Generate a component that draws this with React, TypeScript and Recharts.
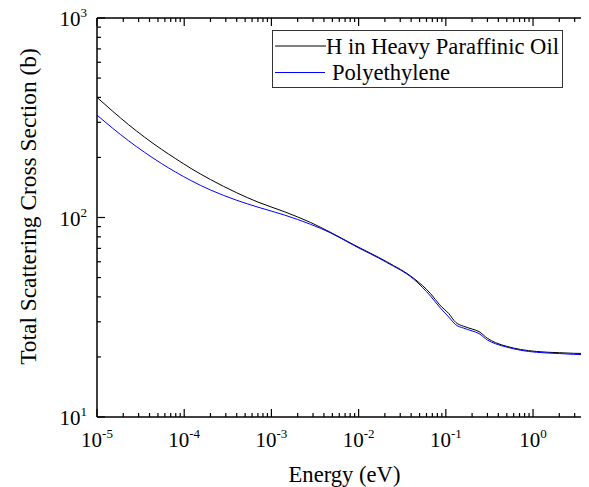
import { LineChart, Line, XAxis, YAxis, Legend } from "recharts";

// energies in eV, cross sections in barns
const energy = [
  1e-5, 1.5e-5, 2.3e-5, 3.5e-5, 5.5e-5, 8e-5, 1.2e-4, 2e-4, 4e-4, 7e-4, 1.4e-3,
  2.8e-3, 4.7e-3, 8.8e-3, 0.021, 0.043, 0.067, 0.085, 0.108, 0.13, 0.16, 0.2,
  0.24, 0.3, 0.37, 0.5, 0.72, 1.1, 2, 4.2, 5,
];
const hOil = [
  400, 342, 292, 253, 219.5, 197, 176, 155, 133, 119.5, 107, 94.5, 84.5, 73,
  60, 49.5, 41.5, 36.5, 33, 29.8, 28.5, 27.6, 26.8, 24.8, 23.6, 22.6, 21.8,
  21.3, 21.0, 20.8, 20.8,
];
const polyethylene = [
  326, 281, 242.5, 212.4, 186.3, 168.8, 153, 137.4, 122, 112.7, 103, 92.5, 84,
  72.5, 59.5, 49, 40.3, 35.5, 31.7, 29.0, 27.9, 27.0, 26.2, 24.3, 23.3, 22.4,
  21.6, 21.1, 20.8, 20.5, 20.5,
];

const seriesNames = ["H in Heavy Paraffinic Oil", "Polyethylene"];
const seriesColors = ["#000000", "#0000ff"];

const xDecades = [-5, -4, -3, -2, -1, 0];
const yDecades = [1, 2, 3];
const minorSteps = [2, 3, 4, 5, 6, 7, 8, 9];
const xMax = 5;

const xTicks = xDecades
  .flatMap((d) => [1, ...minorSteps].map((m) => m * 10 ** d))
  .filter((v) => v <= xMax * 1.0001);
const yTicks = [
  ...yDecades.slice(0, -1).flatMap((d) => [1, ...minorSteps].map((m) => m * 10 ** d)),
  10 ** yDecades[yDecades.length - 1],
];

const data = energy.map((e, i) => ({ e, hOil: hOil[i], poly: polyethylene[i] }));

const FONT = '"Liberation Serif", "Times New Roman", serif';

const decadeOf = (v: number) => {
  const l = Math.log10(v);
  return Math.abs(l - Math.round(l)) < 1e-6 ? Math.round(l) : null;
};

const XTick = (props: any) => {
  const { x, y, payload, side } = props;
  const exp = decadeOf(payload.value);
  const len = exp !== null ? 8 : 4;
  const dir = side === "bottom" ? -1 : 1;
  return (
    <g>
      <line x1={x} x2={x} y1={y} y2={y + dir * len} stroke="#000" strokeWidth={1.2} />
      {side === "bottom" && exp !== null && (
        <text x={x} y={y + 30} textAnchor="middle" fontFamily={FONT} fontSize={21} fill="#000">
          <tspan>10</tspan>
          <tspan dy={-9} fontSize={13}>{String(exp)}</tspan>
        </text>
      )}
    </g>
  );
};

const YTick = (props: any) => {
  const { x, y, payload, side } = props;
  const exp = decadeOf(payload.value);
  const len = exp !== null ? 8 : 4;
  const dir = side === "left" ? 1 : -1;
  return (
    <g>
      <line x1={x} x2={x + dir * len} y1={y} y2={y} stroke="#000" strokeWidth={1.2} />
      {side === "left" && exp !== null && (
        <text x={x - 10} y={y + 8} textAnchor="end" fontFamily={FONT} fontSize={21} fill="#000">
          <tspan>10</tspan>
          <tspan dy={-9} fontSize={13}>{String(exp)}</tspan>
        </text>
      )}
    </g>
  );
};

const LegendBox = () => (
  <svg width={292} height={59} style={{ display: "block" }}>
    <rect x={0.5} y={0.5} width={290} height={57} fill="#fff" stroke="#333" strokeWidth={1} />
    <line x1={3} x2={54} y1={16} y2={16} stroke={seriesColors[0]} strokeWidth={1} />
    <text x={54} y={23.5} fontFamily={FONT} fontSize={22.6} fill="#000">
      {seriesNames[0]}
    </text>
    <line x1={3} x2={53} y1={42.5} y2={42.5} stroke={seriesColors[1]} strokeWidth={1} />
    <text x={60} y={50} fontFamily={FONT} fontSize={22.6} fill="#000">
      {seriesNames[1]}
    </text>
  </svg>
);

const axisLine = { stroke: "#000", strokeWidth: 1.5 };

export default function App() {
  return (
    <div
      style={{
        width: 589,
        height: 487,
        margin: "-8px 0 0 -8px",
        overflow: "hidden",
        position: "relative",
      }}
    >
      <LineChart
        width={608}
        height={487}
        data={data}
        margin={{ top: 17, right: 13, bottom: 69, left: 96 }}
      >
        <XAxis
          dataKey="e"
          type="number"
          scale="log"
          domain={[1e-5, xMax]}
          allowDataOverflow
          ticks={xTicks}
          interval={0}
          height={1}
          tickSize={0}
          tickMargin={0}
          tickLine={false}
          axisLine={axisLine}
          tick={(p: any) => <XTick {...p} side="bottom" />}
          label={{
            content: () => (
              <text x={344.5} y={482} textAnchor="middle" fontFamily={FONT} fontSize={22.6} fill="#000">
                Energy (eV)
              </text>
            ),
          }}
        />
        <XAxis
          xAxisId="top"
          orientation="top"
          dataKey="e"
          type="number"
          scale="log"
          domain={[1e-5, xMax]}
          allowDataOverflow
          ticks={xTicks}
          interval={0}
          height={1}
          tickSize={0}
          tickMargin={0}
          tickLine={false}
          axisLine={axisLine}
          tick={(p: any) => <XTick {...p} side="top" />}
        />
        <YAxis
          type="number"
          scale="log"
          domain={[10, 1000]}
          allowDataOverflow
          ticks={yTicks}
          interval={0}
          width={1}
          tickSize={0}
          tickMargin={0}
          tickLine={false}
          axisLine={axisLine}
          tick={(p: any) => <YTick {...p} side="left" />}
          label={{
            content: () => (
              <text
                x={-206.5}
                y={36}
                transform="rotate(-90)"
                textAnchor="middle"
                fontFamily={FONT}
                fontSize={23.4}
                fill="#000"
              >
                Total Scattering Cross Section (b)
              </text>
            ),
          }}
        />
        <YAxis
          yAxisId="right"
          orientation="right"
          type="number"
          scale="log"
          domain={[10, 1000]}
          allowDataOverflow
          ticks={yTicks}
          interval={0}
          width={1}
          tickSize={0}
          tickMargin={0}
          tickLine={false}
          axisLine={axisLine}
          tick={(p: any) => <YTick {...p} side="right" />}
        />
        <Legend
          layout="vertical"
          align="center"
          verticalAlign="middle"
          content={() => <LegendBox />}
          wrapperStyle={{ left: 272, top: 30, width: 292, height: 59 }}
        />
        <Line
          dataKey="hOil"
          name={seriesNames[0]}
          type="monotone"
          stroke={seriesColors[0]}
          strokeWidth={1}
          dot={false}
          isAnimationActive={false}
        />
        <Line
          dataKey="poly"
          name={seriesNames[1]}
          type="monotone"
          stroke={seriesColors[1]}
          strokeWidth={1}
          dot={false}
          isAnimationActive={false}
        />
      </LineChart>
    </div>
  );
}
